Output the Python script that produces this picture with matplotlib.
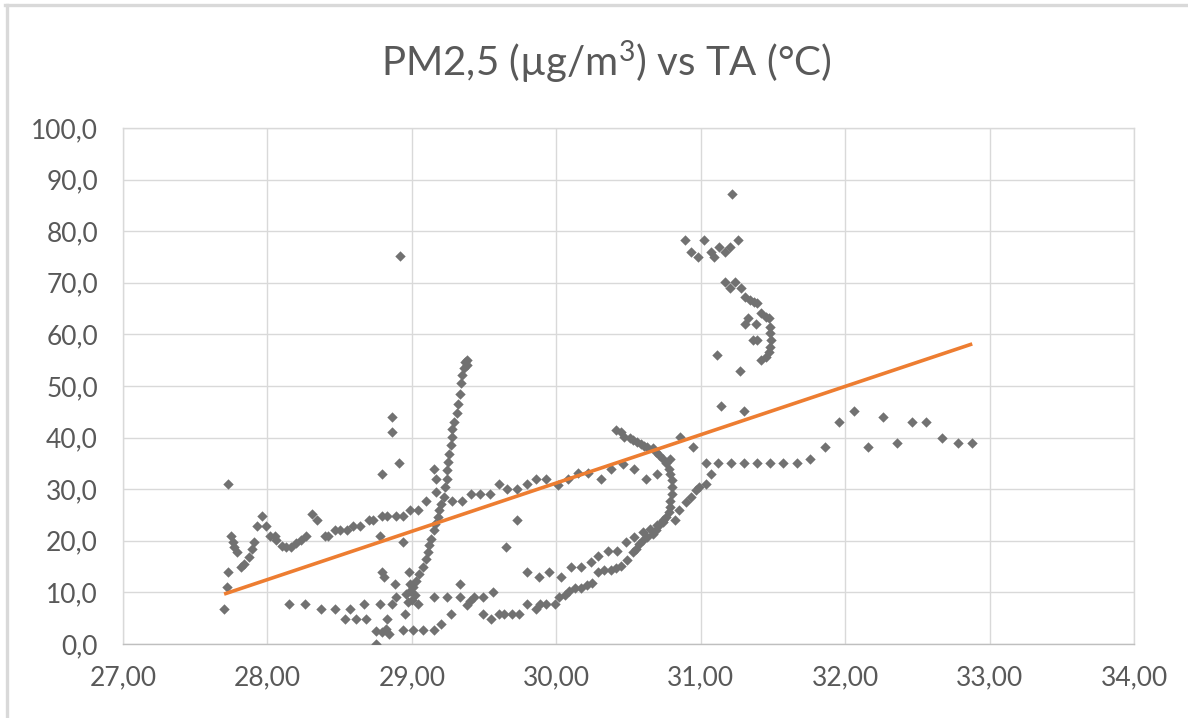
import matplotlib
matplotlib.use("Agg")
import matplotlib.pyplot as plt
import numpy as np
from matplotlib.ticker import FuncFormatter, MultipleLocator
from matplotlib.lines import Line2D

# ---------------- data (TA in °C, PM2.5 in µg/m3) ----------------
left_ta = [27.73, 27.70, 27.72, 27.73, 27.75, 27.76, 27.77, 27.79, 27.82, 27.84, 27.87, 27.89,
           27.91, 27.93, 27.96, 27.99, 28.02, 28.05, 28.06, 28.10, 28.13, 28.16, 28.20, 28.23,
           28.27, 28.31, 28.34, 28.40, 28.42, 28.47, 28.50, 28.55, 28.59, 28.64, 28.70, 28.73,
           28.79, 28.83, 28.89, 28.94, 28.99, 29.04, 29.10, 29.17, 29.15, 29.17]
left_pm = [31.1, 6.8, 11.0, 13.9, 21.0, 19.7, 18.8, 17.8, 14.9, 15.6, 16.8, 18.5,
           19.7, 22.8, 24.9, 22.8, 21.0, 21.0, 20.1, 18.9, 18.8, 18.8, 19.6, 20.1,
           21.0, 25.1, 24.0, 21.0, 21.0, 22.0, 22.0, 22.0, 22.8, 22.8, 24.0, 24.0,
           24.9, 24.9, 24.9, 24.9, 25.9, 25.9, 27.8, 29.4, 34.0, 32.0]

iso_ta = [28.79, 28.86, 28.86, 28.91, 28.92, 28.78, 28.94, 28.79, 28.81, 28.88, 28.98, 28.99]
iso_pm = [33.0, 41.1, 43.9, 35.1, 75.2, 21.0, 19.7, 13.9, 13.0, 11.7, 13.9, 11.7]

low_ta = [28.15, 28.26, 28.37, 28.47, 28.54, 28.57, 28.61, 28.67, 28.68, 28.78, 28.75, 28.75,
          28.79, 28.82, 28.84, 28.83, 28.86, 28.89, 28.94, 28.95, 28.97, 29.01, 29.04, 29.08,
          29.15, 29.15]
low_pm = [7.8, 7.8, 6.8, 6.8, 4.9, 6.8, 4.9, 7.8, 4.9, 7.8, 2.6, 0.0,
          2.3, 2.9, 2.0, 4.9, 7.8, 9.1, 2.8, 5.9, 8.1, 2.8, 7.8, 2.8,
          2.8, 9.1]

steep_ta = [28.96, 28.99, 29.00, 29.01, 29.02, 29.03, 29.05, 29.08, 29.10, 29.11, 29.12, 29.13,
            29.15, 29.16, 29.18, 29.19, 29.20, 29.22, 29.23, 29.24, 29.24, 29.25, 29.26, 29.27,
            29.28, 29.28, 29.29, 29.31, 29.32, 29.33, 29.34, 29.35, 29.36, 29.37, 29.38, 29.38]
steep_pm = [9.7, 10.3, 8.5, 11.0, 9.5, 12.3, 13.6, 14.9, 16.5, 17.8, 19.1, 20.4,
            22.0, 23.3, 24.6, 25.9, 27.2, 28.5, 30.4, 32.0, 33.7, 35.3, 36.9, 38.5,
            40.1, 41.7, 43.0, 44.7, 46.6, 48.5, 50.5, 52.1, 53.4, 54.7, 55.0, 54.0]

mid_ta = [29.28, 29.35, 29.41, 29.47, 29.54, 29.60, 29.66, 29.73, 29.80, 29.86, 29.93, 30.01,
          30.08, 30.15, 30.22, 30.31, 30.38, 30.46, 30.54, 30.62, 30.70, 30.79, 30.86, 30.95,
          29.73, 29.65]
mid_pm = [27.8, 27.8, 29.1, 29.1, 29.1, 31.1, 30.1, 30.1, 31.1, 32.0, 32.0, 30.9,
          32.0, 33.1, 33.1, 32.0, 34.0, 34.8, 34.0, 31.9, 33.0, 35.9, 40.1, 38.2,
          24.0, 18.8]

hook_ta = [30.41, 30.45, 30.47, 30.51, 30.53, 30.56, 30.59, 30.61, 30.63, 30.67, 30.69, 30.71,
           30.74, 30.76, 30.78, 30.79, 30.80, 30.80, 30.80, 30.79, 30.79, 30.78, 30.76, 30.74,
           30.71, 30.69, 30.67, 30.63, 30.60, 30.57, 30.55, 30.53, 30.49, 30.45, 30.41, 30.38,
           30.33, 30.29, 30.25, 30.21, 30.17, 30.13, 30.09, 30.06, 30.02, 29.99, 29.93, 29.89,
           29.86, 29.80, 29.74, 29.69, 29.64, 29.60, 29.55, 29.49, 29.56, 29.49, 29.43, 29.40,
           29.38, 29.33, 29.33, 29.27, 29.24, 29.20]
hook_pm = [41.4, 41.1, 40.1, 40.0, 39.6, 39.1, 38.8, 38.3, 38.2, 37.9, 37.2, 36.6,
           35.9, 35.0, 34.0, 33.0, 31.7, 30.4, 29.1, 27.8, 26.5, 25.6, 24.6, 23.6,
           23.0, 22.0, 21.4, 20.7, 20.1, 19.4, 18.5, 17.8, 16.2, 15.2, 14.8, 14.3,
           14.3, 13.9, 11.8, 11.5, 10.9, 10.9, 10.2, 9.4, 9.1, 7.8, 7.8, 7.8,
           6.8, 7.8, 5.9, 5.9, 5.9, 5.9, 4.9, 5.9, 10.0, 9.1, 9.1, 8.4,
           7.5, 9.1, 11.7, 5.9, 9.1, 3.9]

outer_ta = [29.80, 29.88, 29.95, 30.03, 30.10, 30.17, 30.24, 30.29, 30.36, 30.42, 30.48, 30.54,
            30.60, 30.65, 30.70, 30.74, 30.82, 30.85, 30.90, 30.93, 30.97, 30.99, 31.04, 31.07]
outer_pm = [13.9, 13.0, 13.9, 13.0, 14.9, 14.9, 15.9, 17.0, 18.0, 18.0, 19.7, 20.7,
            21.7, 22.3, 23.0, 24.0, 24.0, 25.9, 27.5, 28.5, 29.8, 30.4, 31.1, 33.0]

right_ta = [31.04, 31.12, 31.21, 31.30, 31.39, 31.48, 31.57, 31.67, 31.76, 31.86, 31.96, 32.06,
            32.16, 32.26, 32.36, 32.46, 32.56, 32.67, 32.78, 32.88, 31.14, 31.30, 31.11, 31.27]
right_pm = [35.0, 35.0, 35.0, 35.0, 35.0, 35.0, 35.0, 35.0, 35.9, 38.1, 43.0, 45.2,
            38.1, 43.9, 39.0, 43.0, 43.0, 40.0, 39.0, 39.0, 46.1, 45.2, 56.0, 52.9]

top_ta = [31.22, 30.89, 30.93, 30.98, 31.02, 31.07, 31.09, 31.13, 31.17, 31.20, 31.26, 31.17,
          31.20, 31.24, 31.28, 31.31, 31.34, 31.37, 31.39, 31.42, 31.45, 31.47, 31.48, 31.48,
          31.49, 31.48, 31.47, 31.45, 31.42, 31.33, 31.31, 31.38, 31.36, 31.39]
top_pm = [87.2, 78.3, 76.0, 75.0, 78.3, 76.0, 75.0, 77.0, 76.0, 76.9, 78.3, 70.2,
          68.9, 70.2, 68.9, 67.3, 66.6, 66.3, 66.1, 64.1, 63.4, 63.1, 61.5, 60.2,
          58.9, 57.6, 56.6, 55.6, 55.0, 63.1, 62.1, 62.1, 59.0, 59.0]

# linear trend line (Excel trendline) coefficients
trend_slope = 9.36
trend_intercept = -249.6

title = "PM2,5 (µg/m$^{3}$) vs TA (°C)"

# ---------------- drawing ----------------
ta = np.array(left_ta + iso_ta + low_ta + steep_ta + mid_ta + hook_ta + outer_ta + right_ta + top_ta)
pm = np.array(left_pm + iso_pm + low_pm + steep_pm + mid_pm + hook_pm + outer_pm + right_pm + top_pm)

plt.rcParams['font.family'] = ['Lato', 'DejaVu Sans']
plt.rcParams['mathtext.fontset'] = 'custom'
plt.rcParams['mathtext.rm'] = 'Lato'
plt.rcParams['mathtext.it'] = 'Lato'
plt.rcParams['mathtext.default'] = 'regular'

W, H = 1188, 718
fig = plt.figure(figsize=(W / 100, H / 100), dpi=100)
fig.patch.set_facecolor('white')

# chart-area frame (only top and left edges visible in the reference)
fig.add_artist(Line2D([5 / W, 1], [1 - 4.5 / H, 1 - 4.5 / H], transform=fig.transFigure,
                      color='#d9d9d9', linewidth=2.4))
fig.add_artist(Line2D([6.5 / W, 6.5 / W], [0, 1 - 4.5 / H], transform=fig.transFigure,
                      color='#d9d9d9', linewidth=2.4))

ax = fig.add_axes([123 / W, 1 - 644 / H, (1134 - 123) / W, (644 - 128) / H])
ax.set_xlim(27, 34)
ax.set_ylim(0, 100)
ax.xaxis.set_major_locator(MultipleLocator(1))
ax.yaxis.set_major_locator(MultipleLocator(10))
ax.xaxis.set_major_formatter(FuncFormatter(lambda v, p: f"{v:.2f}".replace('.', ',')))
ax.yaxis.set_major_formatter(FuncFormatter(lambda v, p: f"{v:.1f}".replace('.', ',')))
ax.grid(True, color='#d9d9d9', linewidth=1.0)
ax.set_axisbelow(True)
for s in ax.spines.values():
    s.set_color('#d9d9d9')
    s.set_linewidth(1.0)
ax.spines['bottom'].set_color('#bfbfbf')
ax.tick_params(length=0, labelsize=19, colors='#595959')
ax.tick_params(axis='x', pad=15)
ax.tick_params(axis='y', pad=18)

ax.scatter(ta, pm, marker='D', s=28, color='#717171', linewidths=0, zorder=3)

xt = np.array([ta.min(), ta.max()])
ax.plot(xt, trend_slope * xt + trend_intercept, color='#ED7D31', linewidth=2.6,
        solid_capstyle='butt', zorder=4)

fig.text(606 / W, 1 - 62 / H, title, ha='center', va='center', fontsize=29, color='#595959')

fig.savefig('out.png', dpi=100, facecolor=fig.get_facecolor())
